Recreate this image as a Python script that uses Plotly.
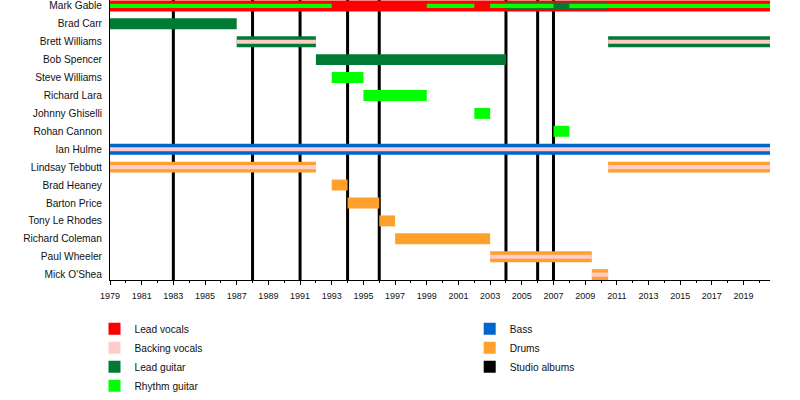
import plotly.graph_objects as go

# Band members, top to bottom
members = [
    "Mark Gable", "Brad Carr", "Brett Williams", "Bob Spencer",
    "Steve Williams", "Richard Lara", "Johnny Ghiselli", "Rohan Cannon",
    "Ian Hulme", "Lindsay Tebbutt", "Brad Heaney", "Barton Price",
    "Tony Le Rhodes", "Richard Coleman", "Paul Wheeler", "Mick O'Shea",
]

start_year = 1979
end_year = 2020.67

# (member, from, to)
lead_vocals = [("Mark Gable", 1979, end_year)]
lead_guitar = [
    ("Mark Gable", 2004, 2010.45),
    ("Brad Carr", 1979, 1987),
    ("Brett Williams", 1987, 1992),
    ("Brett Williams", 2010.45, end_year),
    ("Bob Spencer", 1992, 2004),
]
rhythm_guitar = [
    ("Mark Gable", 1979, 1993),
    ("Mark Gable", 1999, 2002),
    ("Mark Gable", 2003, 2007),
    ("Mark Gable", 2008, end_year),
    ("Steve Williams", 1993, 1995),
    ("Richard Lara", 1995, 1999),
    ("Johnny Ghiselli", 2002, 2003),
    ("Rohan Cannon", 2007, 2008),
]
bass = [("Ian Hulme", 1979, end_year)]
drums = [
    ("Lindsay Tebbutt", 1979, 1992),
    ("Lindsay Tebbutt", 2010.45, end_year),
    ("Brad Heaney", 1993, 1994),
    ("Barton Price", 1994, 1996),
    ("Tony Le Rhodes", 1996, 1997),
    ("Richard Coleman", 1997, 2003),
    ("Paul Wheeler", 2003, 2009.42),
    ("Mick O'Shea", 2009.42, 2010.45),
]
backing_vocals = [
    ("Brett Williams", 1987, 1992),
    ("Brett Williams", 2010.45, end_year),
    ("Ian Hulme", 1979, end_year),
    ("Lindsay Tebbutt", 1979, 1992),
    ("Lindsay Tebbutt", 2010.45, end_year),
    ("Paul Wheeler", 2003, 2009.42),
    ("Mick O'Shea", 2009.42, 2010.45),
]
studio_albums = [1983, 1988, 1991, 1994, 1996, 2004, 2006, 2007]

colors = {
    "Lead vocals": "#FF0000",
    "Backing vocals": "#FFCCCC",
    "Lead guitar": "#007A35",
    "Rhythm guitar": "#00FF00",
    "Bass": "#0066CC",
    "Drums": "#FFA02C",
    "Studio albums": "#000000",
}

FULL = 0.61
STRIPE = 0.23
singers = {m for m, _, _ in lead_vocals}

y_top, y_bottom = -0.33, len(members) - 0.7

fig = go.Figure()

# album lines go first so the member bars sit on top
fig.add_trace(go.Bar(
    x=studio_albums,
    y=[y_top - y_bottom] * len(studio_albums),
    base=[y_bottom] * len(studio_albums),
    width=0.19,
    orientation="v",
    marker=dict(color=colors["Studio albums"], line_width=0),
    name="Studio albums", legend="legend2", legendrank=3,
    hoverinfo="skip",
))


def role_bar(spans, role, widths, legend, rank):
    fig.add_trace(go.Bar(
        y=[members.index(m) for m, _, _ in spans],
        x=[b - a for _, a, b in spans],
        base=[a for _, a, _ in spans],
        width=widths,
        orientation="h",
        marker=dict(color=colors[role], line_width=0),
        name=role, legend=legend, legendrank=rank,
    ))


role_bar(lead_vocals, "Lead vocals", FULL, "legend", 1)
role_bar(lead_guitar, "Lead guitar",
         [0.39 if m in singers else FULL for m, _, _ in lead_guitar], "legend", 3)
role_bar(rhythm_guitar, "Rhythm guitar",
         [STRIPE if m in singers else FULL for m, _, _ in rhythm_guitar], "legend", 4)
role_bar(bass, "Bass", FULL, "legend2", 1)
role_bar(drums, "Drums", FULL, "legend2", 2)
role_bar(backing_vocals, "Backing vocals", STRIPE, "legend", 2)

font = dict(family="Liberation Sans, Arial, sans-serif", size=10.2, color="#111111")
legend_style = dict(xanchor="left", yanchor="top", traceorder="normal",
                    font=font, bgcolor="rgba(0,0,0,0)")

fig.update_layout(
    width=800, height=400,
    margin=dict(l=110, r=30, t=0, b=120, autoexpand=False),
    barmode="overlay",
    paper_bgcolor="white", plot_bgcolor="white",
    font=font,
    showlegend=True,
    legend=dict(x=-0.0235, y=-0.122, **legend_style),
    legend2=dict(x=0.545, y=-0.122, **legend_style),
    xaxis=dict(
        range=[start_year, end_year],
        tick0=1979, dtick=2,
        ticks="outside", ticklen=4, tickcolor="black",
        minor=dict(dtick=1, ticks="outside", ticklen=2, tickcolor="black"),
        showgrid=False, zeroline=False,
        showline=True, linecolor="black", linewidth=1,
        tickfont=dict(family=font["family"], size=9, color="#111111"),
        ticklabelstandoff=3,
        automargin=False,
    ),
    yaxis=dict(
        range=[y_bottom, y_top],
        tickvals=list(range(len(members))),
        ticktext=members,
        ticks="", showgrid=False, zeroline=False,
        showline=True, linecolor="black", linewidth=1,
        ticklabelstandoff=5,
        automargin=False,
    ),
)

# drop the browser's default 8px page margin so the figure sits at the corner
fig.write_html(
    "out.html",
    config={"displayModeBar": False},
    post_script="document.body.style.margin = '0';",
)
